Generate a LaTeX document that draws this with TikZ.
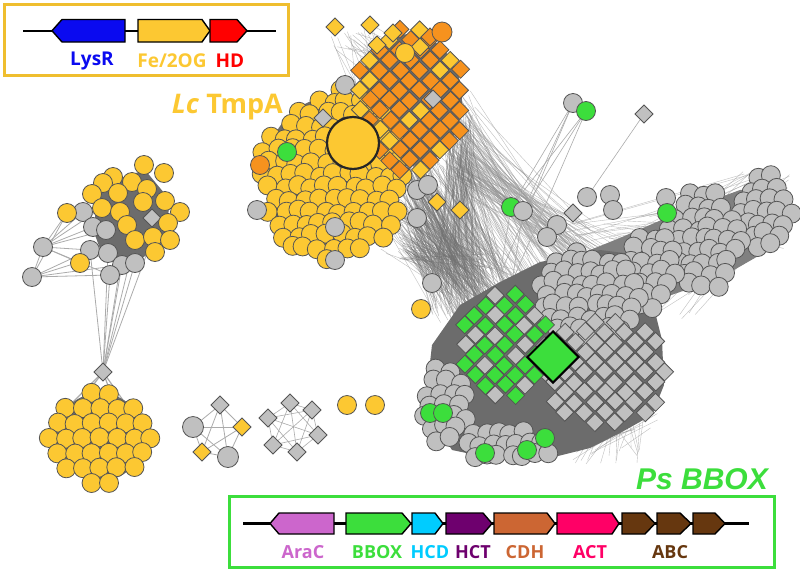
\documentclass[tikz,border=0pt]{standalone}
\usepackage{fontspec}
\setmainfont{Open Sans}
\newfontfamily\lsans{Liberation Sans}
\usetikzlibrary{shapes.geometric}
\definecolor{yel}{RGB}{252,200,50}
\definecolor{ora}{RGB}{246,146,30}
\definecolor{gry}{RGB}{192,192,192}
\definecolor{grn}{RGB}{60,222,60}
\definecolor{bdr}{RGB}{85,85,85}
\definecolor{ledgec}{RGB}{150,150,150}
\definecolor{dedgec}{RGB}{115,115,115}
\definecolor{dmass}{RGB}{108,108,108}
\definecolor{mmass}{RGB}{128,128,128}
\definecolor{lysrc}{RGB}{10,10,240}
\definecolor{hdc}{RGB}{255,0,0}
\definecolor{aracc}{RGB}{204,102,204}
\definecolor{hcdc}{RGB}{0,204,255}
\definecolor{hctc}{RGB}{110,0,110}
\definecolor{cdhc}{RGB}{204,102,51}
\definecolor{actc}{RGB}{255,0,102}
\definecolor{abcc}{RGB}{102,55,15}
\tikzset{
  cn/.style={circle,draw=bdr,line width=0.8pt,minimum size=19pt,inner sep=0pt,outer sep=0pt},
  dn/.style={diamond,draw=bdr,line width=0.8pt,minimum size=18pt,inner sep=0pt,outer sep=0pt},
  yc/.style={cn,fill=yel}, gc/.style={cn,fill=gry}, grc/.style={cn,fill=grn}, oc/.style={cn,fill=ora},
  yd/.style={dn,fill=yel}, gd/.style={dn,fill=gry}, grd/.style={dn,fill=grn}, od/.style={dn,fill=ora},
  ledge/.style={draw=ledgec,line width=0.4pt,opacity=0.6},
  dedge/.style={draw=dedgec,line width=0.4pt,opacity=0.5},
  sedge/.style={draw=ledgec!80,line width=0.8pt},
  genestroke/.style={draw=black,line width=1.4pt,line join=miter},
  lab/.style={font=\bfseries\fontsize{18}{18}\selectfont,inner sep=0pt},
}
% hexagonal jittered blob: cx cy a b spacing jitter style rot extra-condition
\newcommand\hexblob[9]{%
  \pgfmathtruncatemacro\hbNi{#3/#5+2}%
  \pgfmathtruncatemacro\hbNj{#4/(0.87*#5)+2}%
  \pgfmathtruncatemacro\hbMi{-\hbNi}%
  \pgfmathtruncatemacro\hbMj{-\hbNj}%
  \foreach \hbj in {\hbMj,...,\hbNj}{%
    \foreach \hbi in {\hbMi,...,\hbNi}{%
      \pgfmathsetmacro\hbu{\hbi*#5+mod(\hbj+100,2)*0.5*#5+#6*rand}%
      \pgfmathsetmacro\hbv{\hbj*0.87*#5+#6*rand}%
      \pgfmathsetmacro\hbX{#1+\hbu*cos(#8)-\hbv*sin(#8)}%
      \pgfmathsetmacro\hbY{#2+\hbu*sin(#8)+\hbv*cos(#8)}%
      \pgfmathtruncatemacro\hbin{((\hbu/#3)*(\hbu/#3)+(\hbv/#4)*(\hbv/#4)<1) && (#9) ? 1 : 0}%
      \ifnum\hbin=1
        \node[#7] at (\hbX,\hbY) {};
      \fi
    }%
  }%
}
% checkerboard diamond blob: cx cy a b spacing style1 style2 prob2
\newcommand\diablob[8]{%
  \pgfmathtruncatemacro\dbNi{#3/#5+1}%
  \pgfmathtruncatemacro\dbNj{#4/#5+1}%
  \pgfmathtruncatemacro\dbMi{-\dbNi}%
  \pgfmathtruncatemacro\dbMj{-\dbNj}%
  \foreach \dbj in {\dbMj,...,\dbNj}{%
    \foreach \dbi in {\dbMi,...,\dbNi}{%
      \pgfmathtruncatemacro\dbok{(mod(\dbi+\dbj+200,2)==0) && ((\dbi*#5/#3)*(\dbi*#5/#3)+(\dbj*#5/#4)*(\dbj*#5/#4)<1) ? 1 : 0}%
      \ifnum\dbok=1
        \pgfmathtruncatemacro\dbpick{rnd<#8 ? 1 : 0}%
        \pgfmathsetmacro\dbX{#1+\dbi*#5+0.8*rand}%
        \pgfmathsetmacro\dbY{#2+\dbj*#5+0.8*rand}%
        \ifnum\dbpick=1
          \node[#7] at (\dbX,\dbY) {};
        \else
          \node[#6] at (\dbX,\dbY) {};
        \fi
      \fi
    }%
  }%
}
% random line bundle between two rectangles: x1 y1 w1 h1 x2 y2 w2 h2 count
\newcommand\bundle[9]{%
  \foreach \bk in {1,...,#9}{%
    \draw[ledge] ({#1+#3*rnd},{#2+#4*rnd}) -- ({#5+#7*rnd},{#6+#8*rnd});
  }%
}
\newcommand\dbundle[9]{%
  \foreach \bk in {1,...,#9}{%
    \draw[dedge] ({#1+#3*rnd},{#2+#4*rnd}) -- ({#5+#7*rnd},{#6+#8*rnd});
  }%
}
% gene arrow: tail shoulder tip ytop ybot colour
\newcommand\gene[6]{\draw[genestroke,fill=#6] (#1,#4)--(#2,#4)--(#3,{(#4+#5)/2})--(#2,#5)--(#1,#5)--cycle;}

\begin{document}
\begin{tikzpicture}[x=1pt,y=-1pt]
\useasboundingbox (0,0) rectangle (800,571);
\fill[white] (0,0) rectangle (800,571);

% ================= light edges =================
\pgfmathsetseed{7}
\bundle{400}{140}{70}{120}{455}{270}{90}{70}{110}
\bundle{440}{90}{35}{85}{520}{220}{80}{70}{80}
\bundle{380}{200}{40}{60}{430}{270}{40}{60}{30}
\bundle{740}{170}{50}{80}{560}{215}{140}{105}{90}
\bundle{330}{20}{50}{30}{350}{60}{120}{110}{30}
\bundle{450}{150}{25}{40}{560}{240}{80}{40}{40}
\bundle{600}{380}{60}{50}{560}{440}{80}{25}{30}
\dbundle{398}{140}{22}{120}{430}{250}{70}{70}{180}
\dbundle{445}{110}{30}{70}{430}{250}{80}{60}{90}

% left cluster coordinates
\foreach \x/\y [count=\k] in {83/212,93/227,106/230,43/247,90/250,108/253,122/265,135/263,32/277,110/275}
  \coordinate (ag\k) at (\x,\y);
\foreach \x/\y [count=\k] in {144/165,164/173,113/177,132/182,103/183,147/189,92/194,118/193,143/202,165/201,102/208,120/212,180/212,67/213,127/225,168/223,135/240,153/237,170/240,155/252,80/263}
  \coordinate (ay\k) at (\x,\y);
\coordinate (bd) at (103,372);
\foreach \a/\b in {ag4/ag9,ag4/ag1,ag4/ag2,ag4/ag5,ag4/ag10,ag9/ag10,ag9/ag5,ag4/ay14,ay14/ag1,ay21/ag4,ag4/ag3,ag9/ag6,ag4/ay11,ag9/ag7,ay14/ag9}
  \draw[sedge] (\a) -- (\b);
\foreach \a in {ag10,ag7,ag8,ag6,ag5,ay15,ay18,ay17}
  \draw[sedge] (\a) -- (bd);
\foreach \x/\y in {88/392,110/391,73/402,125/403}
  \draw[sedge,line width=1.2pt] (bd) -- (\x,\y);

% small clusters
\coordinate (c1) at (220,405); \coordinate (c2) at (242,427); \coordinate (c3) at (193,427);
\coordinate (c4) at (202,452); \coordinate (c5) at (228,457);
\foreach \a/\b in {1/2,1/3,1/4,1/5,2/3,2/4,2/5,3/4,3/5,4/5}
  \draw[sedge] (c\a) -- (c\b);
\coordinate (d1) at (290,403); \coordinate (d2) at (312,410); \coordinate (d3) at (268,418);
\coordinate (d4) at (318,435); \coordinate (d5) at (273,445); \coordinate (d6) at (297,452);
\foreach \a/\b in {1/2,1/3,1/4,1/5,1/6,2/3,2/4,2/5,2/6,3/4,3/5,3/6,4/5,4/6,5/6}
  \draw[sedge,line width=0.6pt] (d\a) -- (d\b);

% isolated top nodes of the grey cluster
\coordinate (t1) at (573,103); \coordinate (t2) at (586,111); \coordinate (t3) at (644,114);
\coordinate (t4) at (511,207); \coordinate (t5) at (523,211); \coordinate (t6) at (587,197);
\coordinate (t7) at (500,275); \coordinate (t8) at (512,282);
\foreach \a/\b in {t1/t4,t1/t5,t2/t4,t2/t5,t3/t6,t4/t7,t5/t8,t1/t7,t2/t8}
  \draw[sedge,line width=0.6pt] (\a) -- (\b);

% ================= dense edge masses =================
\fill[dmass] (100,185) -- (145,170) -- (170,200) -- (165,240) -- (140,260) -- (105,262) -- (95,235) -- (95,205) -- cycle;
\fill[dmass] (100,437) circle[radius=44pt];
\fill[dmass] (333,175) ellipse[x radius=68pt, y radius=78pt];
\fill[dmass] (410,100) ellipse[x radius=52pt, y radius=66pt];
\fill[mmass] (560,262) -- (620,238) -- (680,212) -- (740,190) -- (780,186) -- (785,230) -- (760,255) -- (720,278) -- (680,292) -- (640,306) -- (600,310) -- (570,298) -- cycle;
\fill[dmass] (432,345) -- (460,305) -- (500,282) -- (540,262) -- (600,250) -- (640,255) -- (652,300) -- (662,340) -- (664,385) -- (652,415) -- (622,432) -- (590,448) -- (550,458) -- (500,460) -- (452,450) -- (432,420) -- (428,380) -- cycle;

% ================= nodes =================
% left cluster
\foreach \k in {1,...,10} \node[gc] (nag\k) at (ag\k) {};
\node[gd] (nadia) at (152,218) {};
\foreach \k in {1,...,21} \node[yc] (nay\k) at (ay\k) {};

% bottom-left hexagonal cluster
\pgfmathsetseed{3}
\hexblob{100}{438}{53}{48}{17}{0.8}{yc}{0}{1}
\node[gd] (nbd) at (bd) {};

% small clusters
\node[gd] (nc1) at (c1) {}; \node[yd] (nc2) at (c2) {};
\node[gc,minimum size=21pt] (nc3) at (c3) {};
\node[yd] (nc4) at (c4) {};
\node[gc,minimum size=21pt] (nc5) at (c5) {};
\foreach \k in {1,...,6} \node[gd] (nd\k) at (d\k) {};
\node[yc] (ne1) at (347,405) {};
\node[yc] (ne2) at (375,405) {};

% main yellow cluster
\pgfmathsetseed{11}
\hexblob{333}{175}{74}{86}{14}{2.5}{yc}{0}{\hbY+0.82*\hbX>355}
\foreach \x/\y in {257/210,335/227,335/260,345/85,417/190,428/185,417/218}
  \node[gc] at (\x,\y) {};
\node[grc] (fg) at (287,152) {};
\node[oc] (fo) at (260,165) {};
% orange diamond cluster
\pgfmathsetseed{5}
\diablob{410}{100}{58}{72}{10}{od}{yd}{0.25}
\node[gd] at (433,99) {};
\node[gd] at (323,118) {};
\foreach \x/\y in {335/27,370/25,393/33,377/45,420/47,437/202,460/210}
  \node[yd] at (\x,\y) {};
\node[od] at (430,37) {};
\node[yc] at (405,53) {};
\node[oc,minimum size=20pt] at (442,32) {};
\node[circle,draw=black!85,line width=2.2pt,fill=yel,minimum size=52pt,inner sep=0pt] (bigc) at (353,143) {};

% main grey cluster
\pgfmathsetseed{21}
\hexblob{765}{212}{28}{42}{13}{3}{gc}{0}{1}
\hexblob{703}{240}{40}{52}{13}{3}{gc}{0}{1}
\hexblob{648}{272}{30}{42}{13}{3}{gc}{0}{1}
\hexblob{588}{295}{52}{45}{13}{3}{gc}{0}{1}
\hexblob{445}{405}{22}{42}{13}{3}{gc}{0}{1}
\diablob{605}{372}{62}{56}{10}{gd}{gd}{0}
\diablob{505}{345}{48}{58}{10}{grd}{gd}{0.3}
\hexblob{505}{444}{52}{18}{13}{3}{gc}{0}{1}
\foreach \x/\y in {430/413,443/413,527/450,545/438,485/453}
  \node[grc] at (\x,\y) {};
\foreach \x/\y in {432/283,610/195,613/210,557/225,547/237,666/198}
  \node[gc] at (\x,\y) {};
\node[grc] at (667,213) {};
\node[yc] at (421,309) {};
\node[gd] at (573,213) {};
\node[gc] (nt1) at (t1) {}; \node[grc] (nt2) at (t2) {};
\node[gd] (nt3) at (t3) {};
\node[grc] (nt4) at (t4) {}; \node[gc] (nt5) at (t5) {};
\node[gc] (nt6) at (t6) {};
\node[diamond,draw=black,line width=2pt,fill=grn,minimum size=52pt,inner sep=0pt] (bigd) at (553,357) {};

% ================= legends =================
\draw[yel!95!black,line width=3pt] (4.5,4.5) rectangle (288,75.5);
\draw[line width=2.5pt] (23,31) -- (276,31);
\gene{125}{62}{52}{19.5}{42}{lysrc}
\gene{138}{202}{210}{19.5}{42}{yel}
\gene{210}{237}{247}{19.5}{42}{hdc}
\node[lab,text=lysrc,font=\bfseries\fontsize{19}{19}\selectfont] (tlysr) at (92,61) {LysR};
\node[lab,text=yel,font=\bfseries\fontsize{19}{19}\selectfont] (tfe) at (172,61) {Fe/2OG};
\node[lab,text=hdc,font=\bfseries\fontsize{19}{19}\selectfont] (thd) at (230,61) {HD};
\node[anchor=base east,text=yel,font=\bfseries\fontsize{27}{27}\selectfont,inner sep=0pt] (tlc) at (283,113) {\textit{Lc} TmpA};

\node[anchor=base east,text=grn,font=\lsans\bfseries\itshape\fontsize{30}{30}\selectfont,inner sep=0pt] (tps) at (768,489) {Ps BBOX};
\draw[grn,line width=3pt] (229.5,496) rectangle (774,567.5);
\draw[line width=2.5pt] (243,523.5) -- (749,523.5);
\gene{334}{279}{270}{513}{534}{aracc}
\gene{346}{402}{411}{513}{534}{grn}
\gene{412}{435}{443}{513}{534}{hcdc}
\gene{446}{483}{492}{513}{534}{hctc}
\gene{494}{547}{555}{513}{534}{cdhc}
\gene{557}{612}{619}{513}{534}{actc}
\gene{622}{645}{655}{513}{534}{abcc}
\gene{657}{680}{691}{513}{534}{abcc}
\gene{693}{715}{725}{513}{534}{abcc}
\node[lab,text=aracc] (taraC) at (303,552) {AraC};
\node[lab,text=grn] (tbbox) at (377,552) {BBOX};
\node[lab,text=hcdc] (thcd) at (430,552) {HCD};
\node[lab,text=hctc] (thct) at (473,552) {HCT};
\node[lab,text=cdhc] (tcdh) at (525,552) {CDH};
\node[lab,text=actc] (tact) at (590,552) {ACT};
\node[lab,text=abcc] (tabc) at (670,552) {ABC};
\end{tikzpicture}
\end{document}
